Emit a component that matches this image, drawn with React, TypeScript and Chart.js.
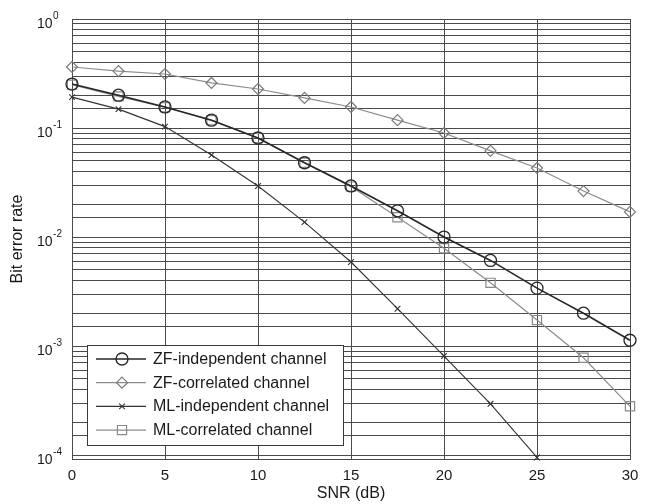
import React, { useEffect, useRef } from 'react';
import { Chart, registerables } from 'chart.js';

Chart.register(...registerables);

const snrDb = [0, 2.5, 5, 7.5, 10, 12.5, 15, 17.5, 20, 22.5, 25, 27.5, 30];
const zfIndependent = [0.253, 0.2, 0.156, 0.118, 0.081, 0.048, 0.0294, 0.0174, 0.01, 0.0061, 0.0034, 0.002, 0.00113];
const zfCorrelated = [0.363, 0.333, 0.313, 0.259, 0.228, 0.189, 0.156, 0.118, 0.09, 0.0617, 0.043, 0.0264, 0.017];
const mlIndependent = [0.192, 0.149, 0.103, 0.0565, 0.0294, 0.0137, 0.0059, 0.0022, 0.00081, 0.000295, 0.000095];
const mlCorrelated = [0.25, 0.195, 0.155, 0.118, 0.081, 0.048, 0.029, 0.0152, 0.0079, 0.0038, 0.00173, 0.00078, 0.00028];

const seriesNames = [
  'ZF-independent channel',
  'ZF-correlated channel',
  'ML-independent channel',
  'ML-correlated channel',
];
const xTickValues = [0, 5, 10, 15, 20, 25, 30];
const yDecadeValues = [1, 0.1, 0.01, 0.001, 0.0001];
const yDecadeExponents = ['0', '-1', '-2', '-3', '-4'];

const FONT = '"Liberation Sans", Arial, Helvetica, sans-serif';

const toPoints = (ys: number[]) => ys.map((y, i) => ({ x: snrDb[i], y }));

function drawMarker(ctx: CanvasRenderingContext2D, style: string, x: number, y: number, r: number) {
  ctx.beginPath();
  if (style === 'circle') {
    ctx.arc(x, y, r, 0, Math.PI * 2);
  } else if (style === 'rectRot') {
    ctx.moveTo(x, y - r);
    ctx.lineTo(x + r, y);
    ctx.lineTo(x, y + r);
    ctx.lineTo(x - r, y);
    ctx.closePath();
  } else if (style === 'rect') {
    const s = r * Math.SQRT1_2;
    ctx.rect(x - s, y - s, 2 * s, 2 * s);
  } else if (style === 'crossRot') {
    const d = r * Math.SQRT1_2;
    ctx.moveTo(x - d, y - d);
    ctx.lineTo(x + d, y + d);
    ctx.moveTo(x - d, y + d);
    ctx.lineTo(x + d, y - d);
  }
  ctx.stroke();
}

const yLabelPlugin = {
  id: 'yDecadeLabels',
  afterDraw(chart: any) {
    const { ctx } = chart;
    const yScale = chart.scales.y;
    ctx.save();
    ctx.fillStyle = '#1a1a1a';
    ctx.textAlign = 'left';
    ctx.textBaseline = 'middle';
    yDecadeValues.forEach((v, i) => {
      const py = yScale.getPixelForValue(v);
      ctx.font = `14px ${FONT}`;
      const baseX = 37;
      ctx.fillText('10', baseX, py + 5);
      const w = ctx.measureText('10').width;
      ctx.font = `10px ${FONT}`;
      ctx.fillText(yDecadeExponents[i], baseX + w + 0.5, py - 3);
    });
    ctx.restore();
  },
};

const legendPlugin = {
  id: 'boxLegend',
  afterDraw(chart: any) {
    const { ctx } = chart;
    const left = 87;
    const top = 345;
    const width = 256;
    const height = 100;
    ctx.save();
    ctx.fillStyle = '#ffffff';
    ctx.fillRect(left, top, width, height);
    ctx.strokeStyle = '#3a3a3a';
    ctx.lineWidth = 1;
    ctx.strokeRect(left + 0.5, top + 0.5, width, height);
    chart.data.datasets.forEach((ds: any, i: number) => {
      const cy = top + 14 + i * 23.7;
      ctx.strokeStyle = ds.borderColor;
      ctx.lineWidth = ds.borderWidth;
      ctx.beginPath();
      ctx.moveTo(96, cy);
      ctx.lineTo(146, cy);
      ctx.stroke();
      ctx.strokeStyle = ds.pointBorderColor;
      ctx.lineWidth = ds.pointBorderWidth;
      drawMarker(ctx, ds.pointStyle, 122, cy, ds.pointRadius);
      ctx.fillStyle = '#1a1a1a';
      ctx.font = `16px ${FONT}`;
      ctx.textAlign = 'left';
      ctx.textBaseline = 'middle';
      ctx.fillText(ds.label, 153, cy + 0.5);
    });
    ctx.restore();
  },
};

export default function App() {
  const canvasRef = useRef<HTMLCanvasElement | null>(null);

  useEffect(() => {
    if (!canvasRef.current) return;
    const gridColor = '#4a4a4a';
    const chart = new Chart(canvasRef.current, {
      type: 'line',
      data: {
        datasets: [
          {
            label: seriesNames[0],
            data: toPoints(zfIndependent),
            borderColor: '#262626',
            borderWidth: 1.6,
            pointStyle: 'circle',
            pointRadius: 6,
            pointBorderColor: '#262626',
            pointBackgroundColor: 'rgba(0,0,0,0)',
            pointBorderWidth: 1.3,
            clip: false,
          },
          {
            label: seriesNames[1],
            data: toPoints(zfCorrelated),
            borderColor: '#8c8c8c',
            borderWidth: 1.2,
            pointStyle: 'rectRot',
            pointRadius: 5.5,
            pointBorderColor: '#7a7a7a',
            pointBackgroundColor: 'rgba(0,0,0,0)',
            pointBorderWidth: 1.2,
            clip: false,
          },
          {
            label: seriesNames[2],
            data: toPoints(mlIndependent),
            borderColor: '#333333',
            borderWidth: 1.1,
            pointStyle: 'crossRot',
            pointRadius: 4,
            pointBorderColor: '#333333',
            pointBackgroundColor: 'rgba(0,0,0,0)',
            pointBorderWidth: 1.1,
            clip: false,
          },
          {
            label: seriesNames[3],
            data: toPoints(mlCorrelated),
            borderColor: '#8c8c8c',
            borderWidth: 1.2,
            pointStyle: 'rect',
            pointRadius: 6.5,
            pointBorderColor: '#8a8a8a',
            pointBackgroundColor: 'rgba(0,0,0,0)',
            pointBorderWidth: 1.2,
            clip: false,
          },
        ],
      },
      options: {
        animation: false,
        responsive: false,
        devicePixelRatio: 1,
        layout: { padding: { top: 19, right: 21, bottom: 0, left: 0 } },
        plugins: {
          legend: { display: false },
          tooltip: { enabled: false },
        },
        elements: { line: { tension: 0 } },
        scales: {
          x: {
            type: 'linear',
            min: 0,
            max: 30,
            afterBuildTicks(scale: any) {
              scale.ticks = xTickValues.map((v) => ({ value: v }));
            },
            afterFit(scale: any) {
              scale.height = 45;
            },
            grid: { color: gridColor, lineWidth: 1, drawTicks: false },
            border: { color: gridColor, width: 1 },
            ticks: {
              padding: 8,
              color: '#1a1a1a',
              font: { family: FONT, size: 15 },
              maxRotation: 0,
              autoSkip: false,
            },
            title: {
              display: true,
              text: 'SNR (dB)',
              color: '#1a1a1a',
              font: { family: FONT, size: 16 },
              padding: { top: 0, bottom: 1 },
            },
          },
          y: {
            type: 'logarithmic',
            min: 0.000092,
            max: 1,
            afterFit(scale: any) {
              scale.width = 72;
            },
            grid: { color: gridColor, lineWidth: 1, drawTicks: false },
            border: { color: gridColor, width: 1 },
            ticks: {
              display: false,
              autoSkip: false,
              callback: () => '',
            },
            title: {
              display: true,
              text: 'Bit error rate',
              color: '#1a1a1a',
              font: { family: FONT, size: 16 },
              padding: { top: 8, bottom: 0 },
            },
          },
        },
      },
      plugins: [yLabelPlugin, legendPlugin],
    } as any);
    return () => chart.destroy();
  }, []);

  return (
    <div style={{ position: 'fixed', left: 0, top: 0, width: 651, height: 504, background: '#fff' }}>
      <canvas ref={canvasRef} width={651} height={504} style={{ width: 651, height: 504, display: 'block' }} />
    </div>
  );
}
